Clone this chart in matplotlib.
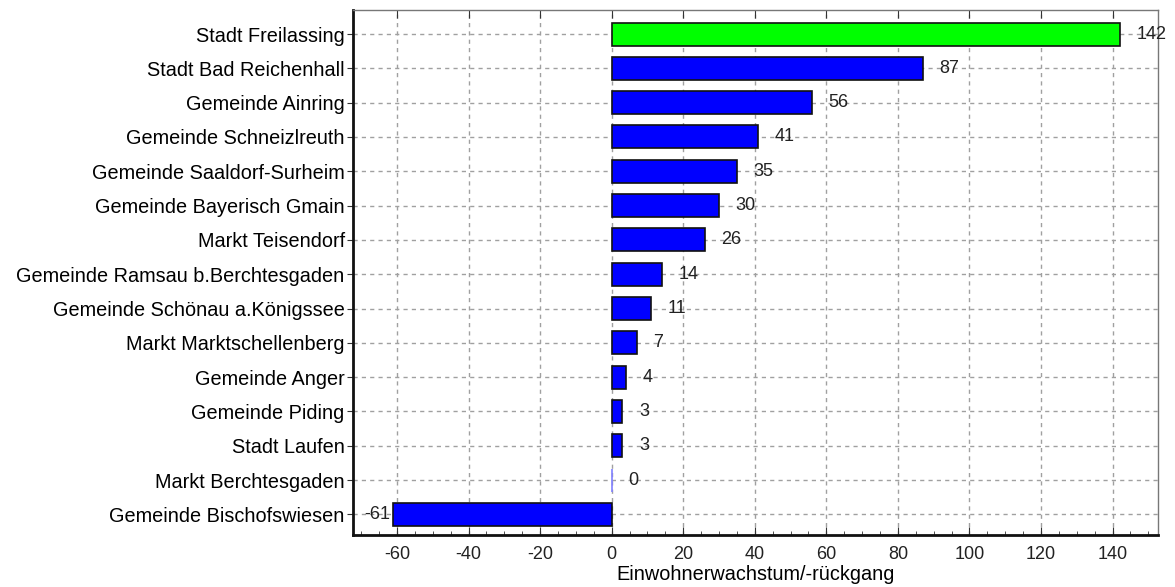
import matplotlib.pyplot as plt
from matplotlib.ticker import MultipleLocator

plt.rcParams['font.family'] = ['Liberation Sans', 'DejaVu Sans']
plt.rcParams['axes.unicode_minus'] = False

# Data
gemeinden = [
    'Stadt Freilassing', 'Stadt Bad Reichenhall', 'Gemeinde Ainring',
    'Gemeinde Schneizlreuth', 'Gemeinde Saaldorf-Surheim', 'Gemeinde Bayerisch Gmain',
    'Markt Teisendorf', 'Gemeinde Ramsau b.Berchtesgaden', 'Gemeinde Schönau a.Königssee',
    'Markt Marktschellenberg', 'Gemeinde Anger', 'Gemeinde Piding', 'Stadt Laufen',
    'Markt Berchtesgaden', 'Gemeinde Bischofswiesen',
]
wachstum = [142, 87, 56, 41, 35, 30, 26, 14, 11, 7, 4, 3, 3, 0, -61]
highlight = 'Stadt Freilassing'


def main():
    fig = plt.figure(figsize=(11.75, 5.87), dpi=100)
    ax = fig.add_axes([353 / 1175, 52 / 587, 805 / 1175, 525 / 587])

    ypos = list(range(len(gemeinden)))
    colors = ['#00ff00' if g == highlight else '#0000ff' for g in gemeinden]
    edges = ['#111111' if v != 0 else '#8080ff' for v in wachstum]
    ax.barh(ypos, wachstum, height=0.67, color=colors, edgecolor=edges,
            linewidth=1.2, zorder=3)

    # Value labels
    for y, v in zip(ypos, wachstum):
        if v < 0:
            ax.annotate(str(v), (v, y), xytext=(-2, 0), textcoords='offset points',
                        ha='right', va='center', fontsize=13, color='#222222', zorder=4)
        else:
            ax.annotate(str(v), (v, y), xytext=(12, 0), textcoords='offset points',
                        ha='left', va='center', fontsize=13, color='#222222', zorder=4)

    ax.set_yticks(ypos)
    ax.set_yticklabels(gemeinden, fontsize=14.3)
    ax.set_ylim(len(gemeinden) - 0.4, -0.7)
    ax.set_xlim(-72.3, 152.7)

    ax.xaxis.set_major_locator(MultipleLocator(20))
    ax.xaxis.set_minor_locator(MultipleLocator(5))
    ax.tick_params(axis='x', which='major', direction='in', length=6, top=True,
                   labelsize=13, colors='#333333', labelcolor='#222222', pad=8)
    ax.tick_params(axis='x', which='minor', direction='in', length=3, top=False,
                   colors='#333333')
    ax.tick_params(axis='y', which='major', length=4, direction='out', colors='#333333',
                   labelcolor='#000000', pad=2)

    ax.grid(True, which='major', linestyle=(0, (3, 3)), color='#a0a0a0', linewidth=1, zorder=0)
    ax.set_axisbelow(True)

    for side in ['left', 'bottom']:
        ax.spines[side].set_linewidth(2)
        ax.spines[side].set_color('#111111')
    for side in ['top', 'right']:
        ax.spines[side].set_linewidth(1)
        ax.spines[side].set_color('#777777')

    ax.set_xlabel('Einwohnerwachstum/-rückgang', fontsize=14.3, labelpad=1, color='#000000')

    fig.savefig('out.png', dpi=100)


if __name__ == "__main__":
    main()
